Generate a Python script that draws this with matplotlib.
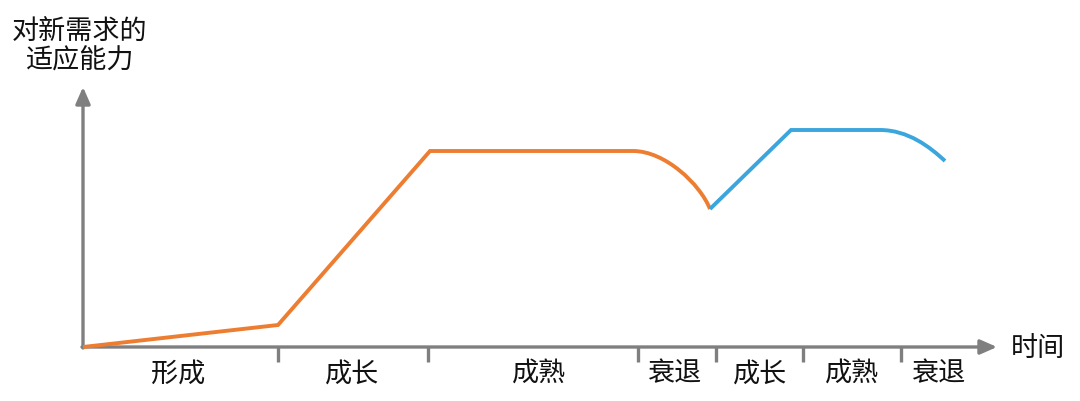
import matplotlib
matplotlib.use("Agg")
import matplotlib.pyplot as plt
from matplotlib.path import Path
from matplotlib.patches import PathPatch

plt.rcParams['font.family'] = ['Noto Sans CJK SC', 'DejaVu Sans']

# first life cycle (orange): straight segments then a cubic bezier drop
orange_pts = [(0, 0), (195, 22), (347, 196), (550, 196),
              (582, 196), (617, 163), (627, 138)]
orange_codes = [Path.MOVETO, Path.LINETO, Path.LINETO, Path.LINETO,
                Path.CURVE4, Path.CURVE4, Path.CURVE4]

# second life cycle (blue)
blue_pts = [(627, 138), (708, 217), (797, 217),
            (825, 217), (847, 200), (862, 186)]
blue_codes = [Path.MOVETO, Path.LINETO, Path.LINETO,
              Path.CURVE4, Path.CURVE4, Path.CURVE4]

tick_x = [195, 345, 555, 633, 720, 818]
stage_x = [95, 269, 456, 591, 677, 769, 855]
stage_labels = ['形成', '成长', '成熟', '衰退', '成长', '成熟', '衰退']

x_end, y_end = 914, 260
gray = '#7f7f7f'

fig = plt.figure(figsize=(10.8, 4.02), dpi=100)
ax = fig.add_axes([0, 0, 1, 1])
ax.set_xlim(-83, 997)
ax.set_ylim(-54, 348)
ax.axis('off')

# axes with arrows
arrow = dict(arrowstyle='-|>,head_length=0.5,head_width=0.22', color=gray,
             lw=2.4, mutation_scale=20, shrinkA=0, shrinkB=0)
ax.annotate('', xy=(x_end, 0), xytext=(-1, 0), arrowprops=arrow)
ax.annotate('', xy=(0, y_end), xytext=(0, -1), arrowprops=arrow)

ax.vlines(tick_x, -15, 0, color=gray, lw=2.4)

for x, s in zip(stage_x, stage_labels):
    ax.text(x, -26, s, fontsize=19.5, ha='center', va='center', color='#111111')

ax.text(955, -1, '时间', fontsize=19.5, ha='center', va='center', color='#111111')
ax.text(-3, 301, '对新需求的\n适应能力', fontsize=19.5, ha='center', va='center',
        linespacing=1.1, color='#111111')

ax.add_patch(PathPatch(Path(orange_pts, orange_codes), fill=False,
                       edgecolor='#ed7d31', lw=2.8, capstyle='butt',
                       joinstyle='miter', zorder=3))
ax.add_patch(PathPatch(Path(blue_pts, blue_codes), fill=False,
                       edgecolor='#3aa6dd', lw=2.8, capstyle='butt',
                       joinstyle='miter', zorder=3))

fig.savefig('out.png', dpi=100)
